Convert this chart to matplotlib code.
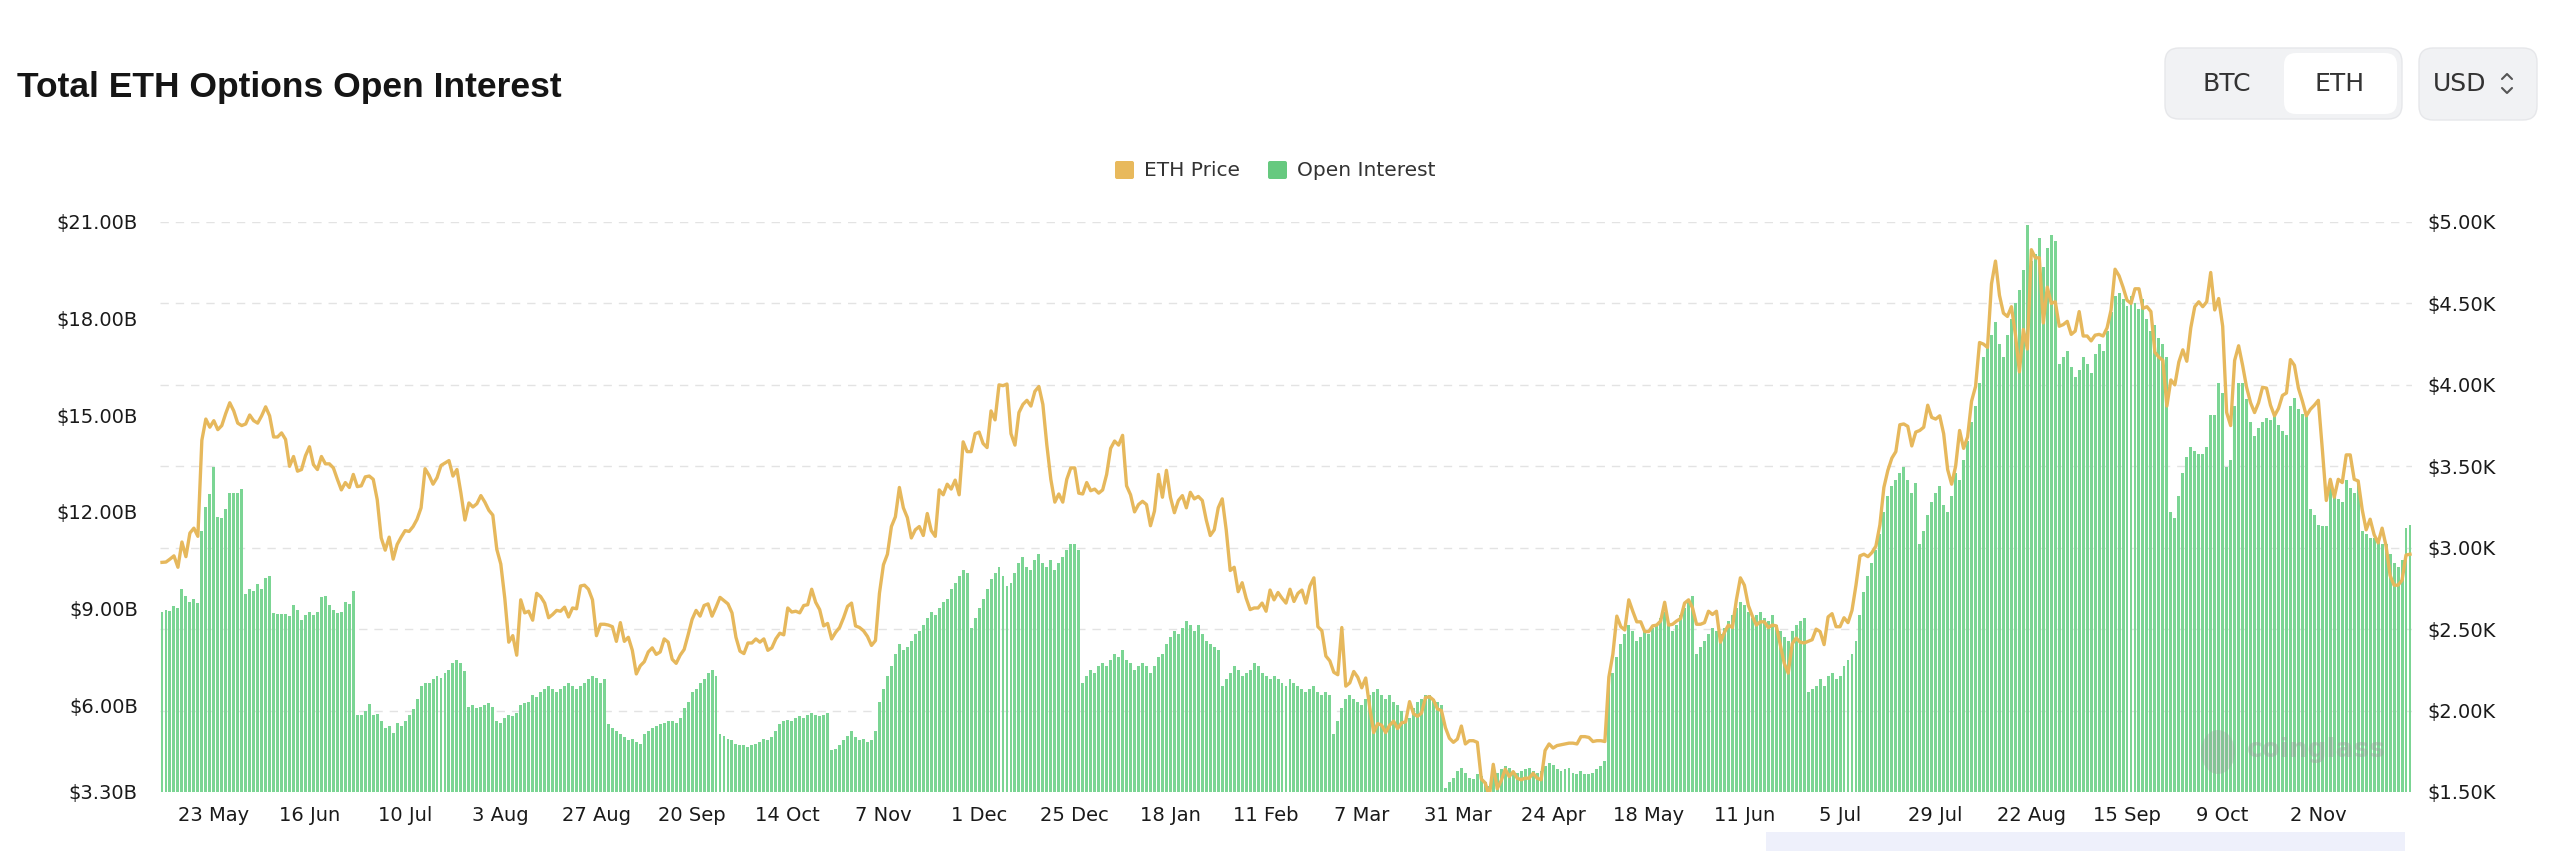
import numpy as np
import pandas as pd
import matplotlib.pyplot as plt
from matplotlib.patches import FancyBboxPatch, Rectangle, Ellipse

plt.rcParams['font.family'] = ['DejaVu Sans']

# one value per day, 10 May 2024 -> 25 Nov 2025
start_date = "2024-05-10"

# ETH price (USD), by month
price_2024_05 = [2910, 2912, 2930, 2950, 2880, 3035, 2945, 3090, 3120, 3070, 3660, 3790, 3740, 3780, 3725, 3750, 3825, 3890, 3840, 3765, 3750, 3760]
price_2024_06 = [3815, 3780, 3765, 3810, 3865, 3810, 3680, 3680, 3705, 3665, 3500, 3560, 3470, 3480, 3565, 3620, 3510, 3480, 3560, 3515, 3515, 3490, 3420, 3355, 3400, 3370, 3450, 3375, 3380, 3435]
price_2024_07 = [3440, 3420, 3295, 3060, 2985, 3065, 2930, 3020, 3065, 3105, 3100, 3130, 3175, 3245, 3485, 3445, 3390, 3430, 3505, 3520, 3535, 3440, 3480, 3335, 3170, 3275, 3250, 3270, 3320, 3280, 3230]
price_2024_08 = [3200, 2990, 2900, 2690, 2420, 2460, 2340, 2680, 2600, 2610, 2555, 2720, 2700, 2660, 2570, 2590, 2615, 2610, 2635, 2575, 2630, 2625, 2765, 2770, 2745, 2680, 2460, 2530, 2530, 2525, 2515]
price_2024_09 = [2425, 2540, 2425, 2450, 2370, 2225, 2275, 2300, 2360, 2385, 2345, 2360, 2440, 2420, 2315, 2290, 2340, 2375, 2465, 2560, 2615, 2580, 2645, 2655, 2580, 2635, 2695, 2675, 2655, 2600]
price_2024_10 = [2450, 2365, 2350, 2415, 2415, 2440, 2420, 2440, 2370, 2385, 2440, 2475, 2465, 2630, 2605, 2610, 2600, 2645, 2650, 2745, 2665, 2620, 2520, 2535, 2440, 2480, 2510, 2570, 2640, 2660, 2520]
price_2024_11 = [2510, 2490, 2455, 2400, 2430, 2720, 2895, 2960, 3130, 3190, 3370, 3245, 3185, 3060, 3110, 3130, 3075, 3210, 3105, 3070, 3355, 3325, 3390, 3360, 3415, 3325, 3650, 3590, 3590, 3700]
price_2024_12 = [3710, 3640, 3615, 3840, 3785, 4000, 3995, 4005, 3700, 3630, 3830, 3880, 3905, 3870, 3960, 3990, 3880, 3630, 3420, 3280, 3330, 3280, 3420, 3490, 3490, 3335, 3330, 3400, 3350, 3360, 3335]
price_2025_01 = [3355, 3450, 3610, 3655, 3630, 3690, 3380, 3325, 3220, 3265, 3285, 3265, 3135, 3225, 3450, 3310, 3475, 3310, 3215, 3290, 3320, 3245, 3340, 3300, 3315, 3290, 3170, 3075, 3110, 3245, 3300]
price_2025_02 = [3110, 2860, 2880, 2730, 2785, 2690, 2620, 2630, 2630, 2660, 2610, 2740, 2680, 2725, 2690, 2660, 2745, 2670, 2720, 2740, 2660, 2765, 2815, 2515, 2490, 2335, 2305, 2235]
price_2025_03 = [2220, 2510, 2150, 2170, 2240, 2205, 2140, 2200, 2020, 1865, 1920, 1910, 1865, 1910, 1935, 1890, 1925, 1930, 2055, 1980, 1965, 1985, 2080, 2085, 2065, 2010, 2000, 1895, 1830, 1805, 1825]
price_2025_04 = [1905, 1795, 1815, 1815, 1805, 1580, 1555, 1470, 1670, 1520, 1570, 1640, 1595, 1625, 1585, 1575, 1585, 1585, 1615, 1585, 1575, 1755, 1795, 1770, 1785, 1790, 1795, 1800, 1800, 1795]
price_2025_05 = [1840, 1840, 1835, 1810, 1815, 1815, 1810, 2205, 2345, 2580, 2515, 2495, 2680, 2610, 2545, 2545, 2485, 2485, 2520, 2525, 2550, 2665, 2525, 2530, 2550, 2565, 2660, 2680, 2630, 2530, 2530]
price_2025_06 = [2540, 2610, 2590, 2610, 2420, 2480, 2525, 2510, 2680, 2815, 2770, 2645, 2580, 2525, 2545, 2545, 2510, 2525, 2520, 2405, 2290, 2230, 2410, 2445, 2420, 2415, 2425, 2435, 2500, 2485]
price_2025_07 = [2405, 2575, 2595, 2515, 2515, 2570, 2540, 2615, 2770, 2950, 2960, 2945, 2970, 3010, 3140, 3370, 3475, 3550, 3590, 3755, 3760, 3745, 3625, 3710, 3720, 3740, 3875, 3800, 3790, 3810, 3700]
price_2025_08 = [3480, 3390, 3500, 3720, 3610, 3680, 3900, 3990, 4260, 4250, 4230, 4620, 4760, 4550, 4440, 4420, 4480, 4310, 4080, 4340, 4220, 4830, 4780, 4780, 4380, 4600, 4500, 4510, 4360, 4370, 4390]
price_2025_09 = [4310, 4330, 4450, 4300, 4300, 4270, 4305, 4310, 4300, 4350, 4460, 4710, 4670, 4600, 4520, 4500, 4590, 4590, 4470, 4480, 4450, 4200, 4170, 4150, 3870, 4030, 4000, 4140, 4215, 4145]
price_2025_10 = [4350, 4480, 4510, 4480, 4510, 4690, 4460, 4530, 4360, 3830, 3750, 4150, 4240, 4120, 3985, 3890, 3830, 3890, 3985, 3980, 3875, 3810, 3855, 3935, 3950, 4155, 4120, 3980, 3900, 3810, 3850]
price_2025_11 = [3875, 3905, 3605, 3290, 3420, 3310, 3420, 3400, 3570, 3570, 3420, 3410, 3235, 3110, 3175, 3080, 3030, 3120, 3010, 2830, 2770, 2770, 2800, 2955, 2960]

# options open interest (billion USD), by month
oi_2024_05 = [8.9, 8.95, 8.93, 9.08, 9.0, 9.6, 9.4, 9.2, 9.3, 9.18, 11.4, 12.15, 12.56, 13.4, 11.85, 11.8, 12.1, 12.6, 12.6, 12.6, 12.7, 9.45]
oi_2024_06 = [9.6, 9.55, 9.75, 9.6, 9.95, 10.0, 8.87, 8.82, 8.83, 8.83, 8.75, 9.1, 8.95, 8.65, 8.8, 8.9, 8.8, 8.9, 9.35, 9.4, 9.1, 8.95, 8.85, 8.9, 9.2, 9.15, 9.55, 5.68, 5.68, 5.8]
oi_2024_07 = [6.04, 5.7, 5.72, 5.5, 5.3, 5.35, 5.13, 5.45, 5.35, 5.5, 5.7, 5.87, 6.2, 6.6, 6.7, 6.7, 6.8, 6.9, 6.85, 7.0, 7.1, 7.3, 7.4, 7.3, 7.05, 5.95, 6.0, 5.9, 5.95, 6.0, 6.05]
oi_2024_08 = [5.95, 5.5, 5.45, 5.6, 5.7, 5.65, 5.75, 6.0, 6.05, 6.1, 6.3, 6.25, 6.4, 6.5, 6.6, 6.5, 6.4, 6.5, 6.6, 6.7, 6.6, 6.5, 6.6, 6.7, 6.8, 6.9, 6.85, 6.7, 6.8, 5.4, 5.3]
oi_2024_09 = [5.2, 5.1, 5.0, 4.9, 4.95, 4.85, 4.8, 5.1, 5.2, 5.3, 5.35, 5.4, 5.45, 5.5, 5.5, 5.45, 5.6, 5.9, 6.1, 6.4, 6.5, 6.7, 6.8, 7.0, 7.1, 6.9, 5.1, 5.05, 4.95, 4.9]
oi_2024_10 = [4.8, 4.75, 4.75, 4.7, 4.75, 4.8, 4.85, 4.95, 4.9, 5.0, 5.2, 5.4, 5.5, 5.55, 5.5, 5.6, 5.65, 5.6, 5.7, 5.75, 5.7, 5.65, 5.7, 5.75, 4.6, 4.65, 4.75, 4.9, 5.05, 5.2, 5.0]
oi_2024_11 = [4.9, 4.95, 4.85, 4.9, 5.2, 6.1, 6.5, 6.9, 7.2, 7.6, 7.9, 7.7, 7.8, 8.0, 8.2, 8.3, 8.5, 8.7, 8.9, 8.8, 9.0, 9.2, 9.3, 9.6, 9.8, 10.0, 10.2, 10.1, 8.4, 8.7]
oi_2024_12 = [9.0, 9.3, 9.6, 9.9, 10.1, 10.3, 10.0, 9.7, 9.8, 10.1, 10.4, 10.6, 10.3, 10.2, 10.5, 10.7, 10.4, 10.3, 10.5, 10.2, 10.4, 10.6, 10.8, 11.0, 11.0, 10.8, 6.7, 6.9, 7.1, 7.0, 7.2]
oi_2025_01 = [7.3, 7.2, 7.4, 7.6, 7.5, 7.7, 7.4, 7.3, 7.1, 7.2, 7.3, 7.2, 7.0, 7.2, 7.5, 7.6, 7.9, 8.1, 8.3, 8.2, 8.4, 8.6, 8.5, 8.3, 8.5, 8.2, 8.0, 7.9, 7.8, 7.7, 6.6]
oi_2025_02 = [6.8, 7.0, 7.2, 7.1, 6.9, 7.0, 7.1, 7.3, 7.2, 7.0, 6.9, 6.8, 6.9, 6.8, 6.7, 6.6, 6.8, 6.7, 6.6, 6.5, 6.4, 6.5, 6.6, 6.4, 6.3, 6.4, 6.3, 5.1]
oi_2025_03 = [5.5, 5.9, 6.2, 6.3, 6.2, 6.1, 6.0, 6.2, 6.3, 6.4, 6.5, 6.3, 6.2, 6.3, 6.1, 6.0, 5.8, 5.5, 5.6, 5.9, 6.1, 6.2, 6.3, 6.3, 6.2, 6.1, 6.0, 3.43, 3.6, 3.75, 3.95]
oi_2025_04 = [4.05, 3.9, 3.75, 3.7, 3.85, 3.8, 3.6, 3.5, 3.8, 3.9, 4.0, 4.1, 4.05, 3.95, 3.9, 3.95, 4.0, 4.05, 3.95, 3.9, 3.95, 4.1, 4.2, 4.15, 4.0, 3.95, 4.0, 4.05, 3.9, 3.85]
oi_2025_05 = [3.95, 3.85, 3.85, 3.9, 4.0, 4.1, 4.25, 6.6, 7.0, 7.5, 7.9, 8.2, 8.5, 8.3, 8.0, 8.1, 8.3, 8.2, 8.4, 8.5, 8.7, 8.9, 8.5, 8.3, 8.5, 8.8, 9.0, 9.3, 9.4, 7.6, 7.8]
oi_2025_06 = [8.0, 8.2, 8.4, 8.3, 8.2, 8.4, 8.6, 8.8, 9.0, 9.2, 9.1, 8.9, 8.7, 8.8, 8.9, 8.7, 8.6, 8.8, 8.5, 8.3, 8.1, 8.0, 8.3, 8.5, 8.6, 8.7, 6.4, 6.5, 6.6, 6.8]
oi_2025_07 = [6.6, 6.9, 7.0, 6.8, 6.9, 7.2, 7.4, 7.6, 8.0, 8.8, 9.5, 10.0, 10.4, 10.8, 11.3, 12.0, 12.5, 12.8, 13.0, 13.2, 13.4, 13.0, 12.6, 12.9, 11.0, 11.4, 11.9, 12.3, 12.6, 12.8, 12.2]
oi_2025_08 = [12.0, 12.5, 13.2, 13.0, 13.6, 14.2, 14.8, 15.3, 16.0, 16.8, 17.2, 17.5, 17.9, 17.2, 16.8, 17.5, 18.0, 18.5, 18.9, 19.5, 20.9, 19.8, 20.0, 20.5, 19.6, 20.2, 20.6, 20.4, 16.6, 16.8, 17.0]
oi_2025_09 = [16.5, 16.2, 16.4, 16.8, 16.6, 16.3, 16.9, 17.2, 17.0, 17.6, 18.2, 18.7, 18.8, 18.6, 18.4, 18.7, 18.5, 18.3, 18.6, 18.0, 17.6, 17.8, 17.4, 17.2, 16.8, 12.0, 11.8, 12.5, 13.2, 13.7]
oi_2025_10 = [14.0, 13.9, 13.8, 13.8, 14.0, 15.0, 15.0, 16.0, 15.7, 13.4, 13.6, 15.3, 16.0, 16.0, 15.5, 14.8, 14.35, 14.6, 14.8, 14.9, 14.85, 15.0, 14.7, 14.5, 14.4, 15.3, 15.55, 15.2, 15.05, 15.0, 12.1]
oi_2025_11 = [11.9, 11.6, 11.55, 11.55, 12.8, 12.5, 12.4, 12.3, 13.0, 12.75, 12.6, 12.85, 11.4, 11.3, 11.2, 11.2, 11.1, 11.0, 11.0, 10.7, 10.4, 10.3, 10.5, 11.5, 11.6]

price = np.array(price_2024_05 + price_2024_06 + price_2024_07 + price_2024_08 + price_2024_09
                 + price_2024_10 + price_2024_11 + price_2024_12 + price_2025_01 + price_2025_02
                 + price_2025_03 + price_2025_04 + price_2025_05 + price_2025_06 + price_2025_07
                 + price_2025_08 + price_2025_09 + price_2025_10 + price_2025_11) / 1000.0
oi = np.array(oi_2024_05 + oi_2024_06 + oi_2024_07 + oi_2024_08 + oi_2024_09
              + oi_2024_10 + oi_2024_11 + oi_2024_12 + oi_2025_01 + oi_2025_02
              + oi_2025_03 + oi_2025_04 + oi_2025_05 + oi_2025_06 + oi_2025_07
              + oi_2025_08 + oi_2025_09 + oi_2025_10 + oi_2025_11)

n = len(oi)
dates = pd.date_range(start_date, periods=n, freq="D")
x = np.arange(n)

left_ticks = [3.3, 6, 9, 12, 15, 18, 21]
right_ticks = [1.5, 2.0, 2.5, 3.0, 3.5, 4.0, 4.5, 5.0]

W, H = 2560, 851
fig = plt.figure(figsize=(W / 100, H / 100), dpi=100)
fig.patch.set_facecolor("white")

ax = fig.add_axes([160 / W, 1 - 792 / H, (2412 - 160) / W, (792 - 222) / H])

# gridlines follow the price axis
for p in right_ticks[1:]:
    f = (p - right_ticks[0]) / (right_ticks[-1] - right_ticks[0])
    ax.plot([0, 1], [f, f], transform=ax.transAxes, color="#e3e3e3",
            lw=1.0, ls=(0, (6, 5)), zorder=0)

ax.bar(x, oi, width=0.74, color="#7bd594", zorder=2)
ax.set_xlim(-0.5, n - 0.5)
ax.set_ylim(left_ticks[0], left_ticks[-1])
ax.set_yticks(left_ticks)
ax.set_yticklabels([f"${v:.2f}B" for v in left_ticks])

xt = list(range(13, n, 24))
ax.set_xticks(xt)
ax.set_xticklabels([f"{dates[i].day} {dates[i].strftime('%b')}" for i in xt])
ax.tick_params(axis="x", length=0, pad=10, labelsize=14, colors="#1a1a1a")
ax.tick_params(axis="y", length=0, pad=16, labelsize=14, colors="#1a1a1a")

ax2 = ax.twinx()
ax2.plot(x, price, color="#e6b85c", lw=2.4, solid_joinstyle="round", zorder=3)
ax2.set_ylim(right_ticks[0], right_ticks[-1])
ax2.set_yticks(right_ticks)
ax2.set_yticklabels([f"${v:.2f}K" for v in right_ticks])
ax2.tick_params(axis="y", length=0, pad=11, labelsize=14, colors="#1a1a1a")

for a in (ax, ax2):
    for s in a.spines.values():
        s.set_visible(False)
    a.patch.set_alpha(0)

# overlay in pixel units for title, legend, buttons
ov = fig.add_axes([0, 0, 1, 1])
ov.set_xlim(0, W)
ov.set_ylim(H, 0)
ov.axis("off")
ov.patch.set_alpha(0)

ov.text(17, 97, "Total ETH Options Open Interest", fontsize=25.5, fontweight="bold",
        family=["Liberation Sans"], color="#151515",
        va="baseline", ha="left")

# legend
ov.add_patch(FancyBboxPatch((1115, 161), 19, 18, boxstyle="round,pad=0,rounding_size=2",
                            fc="#e8b95c", ec="none"))
ov.text(1144, 170, "ETH Price", fontsize=14.5, color="#333333", va="center", ha="left")
ov.add_patch(FancyBboxPatch((1268, 161), 19, 18, boxstyle="round,pad=0,rounding_size=2",
                            fc="#66c97f", ec="none"))
ov.text(1297, 170, "Open Interest", fontsize=14.5, color="#333333", va="center", ha="left")

# buttons
ov.add_patch(FancyBboxPatch((2165, 48), 237, 71, boxstyle="round,pad=0,rounding_size=14",
                            fc="#f1f2f4", ec="#e6e7ea", lw=1))
ov.add_patch(FancyBboxPatch((2284, 53), 113, 61, boxstyle="round,pad=0,rounding_size=12",
                            fc="white", ec="none"))
ov.add_patch(FancyBboxPatch((2419, 48), 118, 72, boxstyle="round,pad=0,rounding_size=14",
                            fc="#f1f2f4", ec="#e6e7ea", lw=1))
ov.text(2227, 84, "BTC", fontsize=18, color="#333333", va="center", ha="center")
ov.text(2340, 84, "ETH", fontsize=18, color="#333333", va="center", ha="center")
ov.text(2460, 84, "USD", fontsize=18, color="#333333", va="center", ha="center")
ov.plot([2502, 2507, 2512], [79, 74, 79], color="#555555", lw=1.5, solid_capstyle="round")
ov.plot([2502, 2507, 2512], [88, 93, 88], color="#555555", lw=1.5, solid_capstyle="round")

# watermark
ov.add_patch(Ellipse((2218, 752), 34, 44, fc="#9a9a9a", ec="none", alpha=0.3))
ov.text(2247, 750, "coinglass", fontsize=19, fontweight="bold", color="#9a9a9a",
        alpha=0.4, va="center", ha="left")

# bottom strip
ov.add_patch(Rectangle((1766, 832), 639, 19, fc="#eef0fb", ec="none"))

fig.savefig("out.png", dpi=100)
